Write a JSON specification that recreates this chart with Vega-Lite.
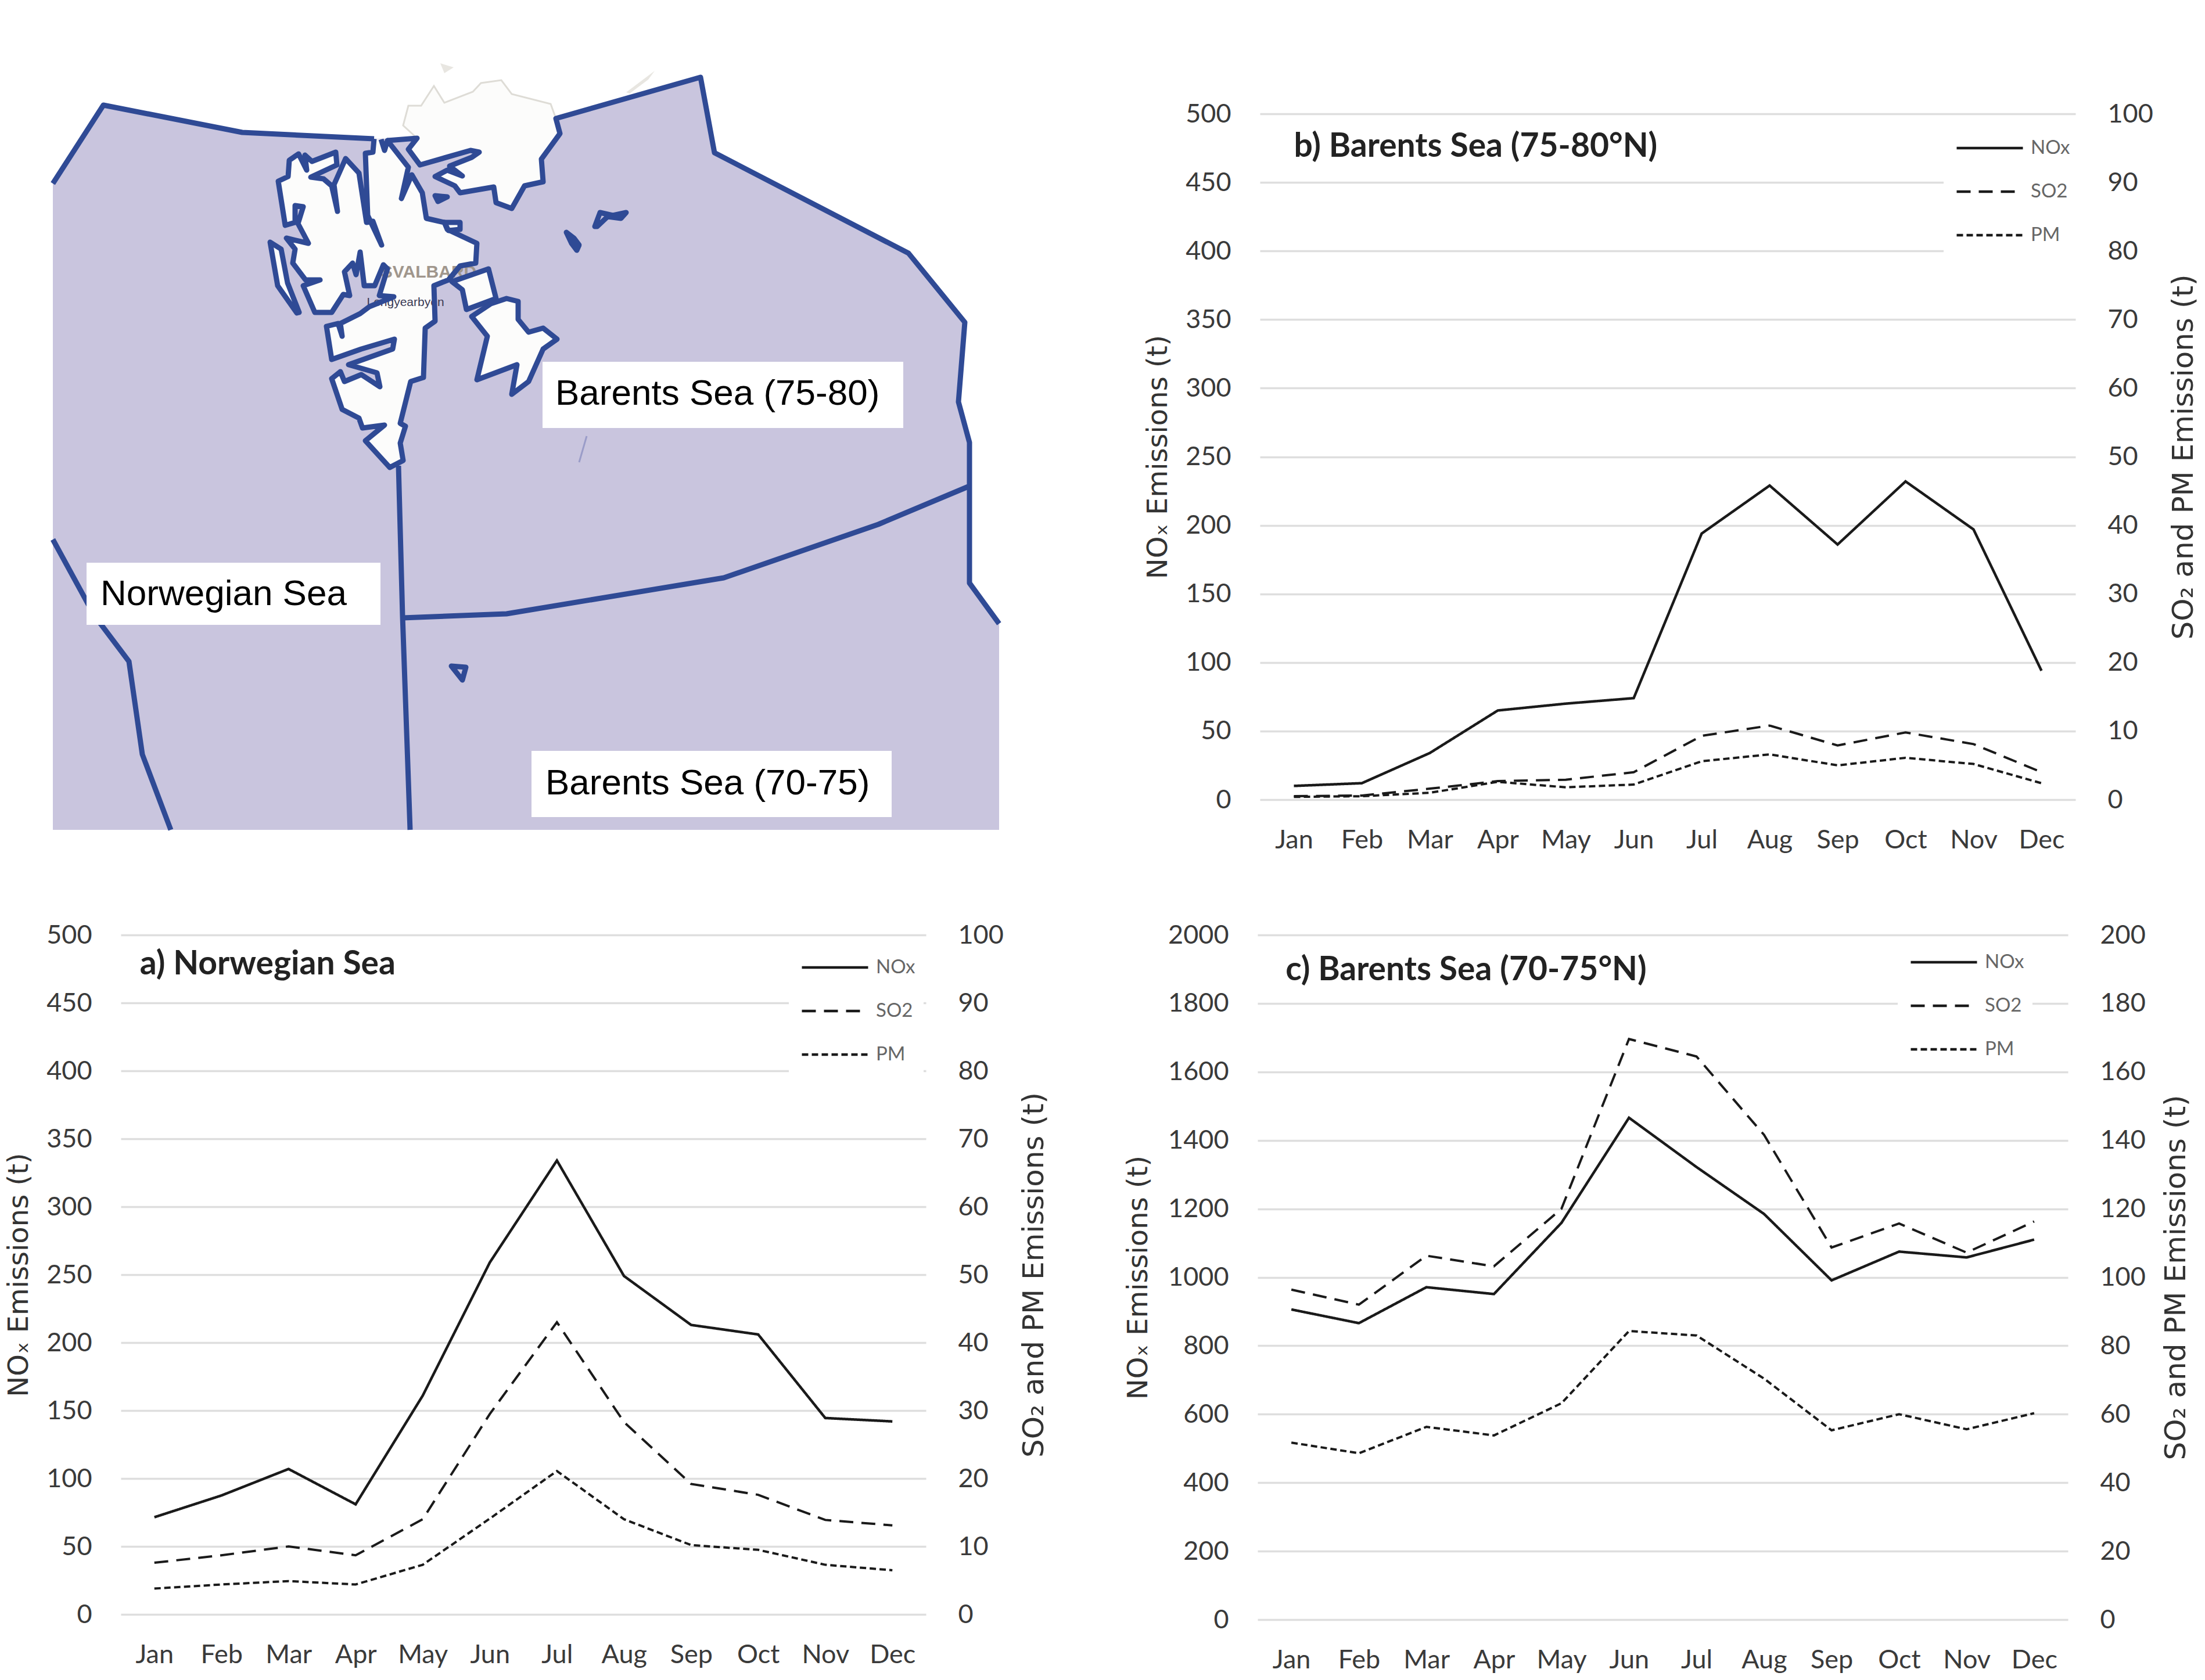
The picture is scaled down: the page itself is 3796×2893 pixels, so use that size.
{
"$schema": "https://vega.github.io/schema/vega-lite/v6.json",
"background": "white",
"padding": {"left": 9, "top": 80, "right": 6, "bottom": 0},
"config": {
  "view": {"stroke": null},
  "axis": {"labelFont": "Lato", "labelFontSize": 45, "labelColor": "#3a3a3a", "titleFont": "DejaVu Sans", "titleFontSize": 48, "titleFontWeight": "normal", "titleColor": "#333333", "domain": false, "ticks": false, "gridColor": "#dedede", "gridWidth": 3.5},
  "legend": {"orient": "none", "title": null, "fillColor": "white", "padding": 14, "symbolSize": 13000, "symbolType": "stroke", "symbolStrokeWidth": 4.5, "symbolStrokeColor": "#1a1a1a", "symbolOffset": 6, "clipHeight": 40, "rowPadding": 35, "labelOffset": 11, "labelFont": "Lato", "labelFontSize": 33, "labelColor": "#666666"}
},
"datasets": {
  "emissions": [
    {"panel":"a","month":"Jan","NOx":71.5,"SO2":7.6,"PM":3.8},
    {"panel":"a","month":"Feb","NOx":87.5,"SO2":8.7,"PM":4.4},
    {"panel":"a","month":"Mar","NOx":107,"SO2":10,"PM":4.9},
    {"panel":"a","month":"Apr","NOx":81,"SO2":8.7,"PM":4.4},
    {"panel":"a","month":"May","NOx":161,"SO2":14,"PM":7.3},
    {"panel":"a","month":"Jun","NOx":259,"SO2":29.5,"PM":14.1},
    {"panel":"a","month":"Jul","NOx":334,"SO2":43,"PM":21.1},
    {"panel":"a","month":"Aug","NOx":249,"SO2":28.3,"PM":14},
    {"panel":"a","month":"Sep","NOx":213,"SO2":19.2,"PM":10.2},
    {"panel":"a","month":"Oct","NOx":206,"SO2":17.6,"PM":9.5},
    {"panel":"a","month":"Nov","NOx":144.5,"SO2":13.9,"PM":7.3},
    {"panel":"a","month":"Dec","NOx":142,"SO2":13.1,"PM":6.5},
    {"panel":"b","month":"Jan","NOx":10,"SO2":0.5,"PM":0.4},
    {"panel":"b","month":"Feb","NOx":12,"SO2":0.6,"PM":0.5},
    {"panel":"b","month":"Mar","NOx":34,"SO2":1.6,"PM":1},
    {"panel":"b","month":"Apr","NOx":65,"SO2":2.7,"PM":2.6},
    {"panel":"b","month":"May","NOx":70,"SO2":2.9,"PM":1.8},
    {"panel":"b","month":"Jun","NOx":74,"SO2":4,"PM":2.2},
    {"panel":"b","month":"Jul","NOx":194,"SO2":9.3,"PM":5.6},
    {"panel":"b","month":"Aug","NOx":229,"SO2":10.8,"PM":6.6},
    {"panel":"b","month":"Sep","NOx":186,"SO2":7.9,"PM":5},
    {"panel":"b","month":"Oct","NOx":232,"SO2":9.8,"PM":6.1},
    {"panel":"b","month":"Nov","NOx":197,"SO2":8.1,"PM":5.2},
    {"panel":"b","month":"Dec","NOx":94,"SO2":4,"PM":2.4},
    {"panel":"c","month":"Jan","NOx":906,"SO2":96.4,"PM":51.7},
    {"panel":"c","month":"Feb","NOx":866,"SO2":92,"PM":48.6},
    {"panel":"c","month":"Mar","NOx":971,"SO2":106.3,"PM":56.3},
    {"panel":"c","month":"Apr","NOx":951,"SO2":103.2,"PM":53.8},
    {"panel":"c","month":"May","NOx":1159,"SO2":120,"PM":63.2},
    {"panel":"c","month":"Jun","NOx":1466,"SO2":169.6,"PM":84.3},
    {"panel":"c","month":"Jul","NOx":1322,"SO2":164.5,"PM":83},
    {"panel":"c","month":"Aug","NOx":1185,"SO2":141.6,"PM":70.4},
    {"panel":"c","month":"Sep","NOx":991,"SO2":108.7,"PM":55.3},
    {"panel":"c","month":"Oct","NOx":1075,"SO2":115.7,"PM":60},
    {"panel":"c","month":"Nov","NOx":1058,"SO2":107.2,"PM":55.6},
    {"panel":"c","month":"Dec","NOx":1110,"SO2":116.3,"PM":60.3}
  ],
  "map": [
    {"type":"Feature","properties":{"kind":"sea"},"geometry":{"type":"Polygon","coordinates":[[[0,236],[87,101],[326,148],[553,159],[627,158],[868,123],[1115,53],[1139,183],[1473,356],[1570,475],[1559,612],[1578,682],[1578,924],[1629,994],[1629,1349],[0,1349],[0,236]]]}},
    {"type":"Feature","properties":{"kind":"land"},"geometry":{"type":"Polygon","coordinates":[[[553,159],[551,182],[538,184],[542,291],[566,342],[551,301],[540,303],[527,218],[504,193],[484,238],[490,284],[480,240],[466,228],[444,225],[489,204],[487,182],[446,198],[434,187],[437,213],[423,185],[407,196],[405,224],[388,232],[400,308],[417,303],[417,274],[431,276],[422,305],[440,339],[402,330],[417,349],[413,373],[435,402],[460,402],[431,412],[451,458],[480,458],[500,427],[511,429],[502,388],[516,373],[522,393],[529,354],[536,412],[554,412],[569,376],[576,383],[562,429],[587,431],[545,448],[529,460],[495,477],[498,499],[491,477],[471,482],[480,539],[531,521],[588,504],[585,521],[509,548],[558,562],[563,586],[531,565],[502,577],[495,560],[480,572],[498,625],[527,640],[533,657],[571,652],[538,679],[580,725],[603,713],[598,683],[607,654],[598,649],[616,577],[638,570],[641,485],[658,473],[656,412],[681,402],[701,378],[728,373],[730,339],[679,315],[674,303],[643,296],[636,252],[618,221],[600,262],[612,208],[576,162],[571,179],[565,160],[553,159]]]}},
    {"type":"Feature","properties":{"kind":"land"},"geometry":{"type":"Polygon","coordinates":[[[627,158],[612,177],[632,204],[719,179],[734,182],[721,191],[683,206],[705,223],[679,213],[658,224],[692,240],[701,252],[759,242],[763,269],[790,279],[812,240],[844,233],[841,194],[873,150],[866,124],[857,99],[790,82],[772,58],[737,63],[723,78],[674,97],[656,68],[634,102],[612,102],[603,136],[627,158]]]}},
    {"type":"Feature","properties":{"kind":"land"},"geometry":{"type":"Polygon","coordinates":[[[374,337],[393,349],[404,407],[424,458],[420,459],[387,412],[374,337]]]}},
    {"type":"Feature","properties":{"kind":"land"},"geometry":{"type":"Polygon","coordinates":[[[687,405],[750,383],[763,434],[712,453],[705,419],[687,405]]]}},
    {"type":"Feature","properties":{"kind":"land"},"geometry":{"type":"Polygon","coordinates":[[[721,465],[754,443],[781,434],[801,439],[801,470],[819,492],[844,485],[868,504],[844,521],[819,577],[790,599],[799,548],[730,574],[748,499],[721,465]]]}},
    {"type":"Feature","properties":{"kind":"land"},"geometry":{"type":"Polygon","coordinates":[[[674,303],[701,303],[701,315],[681,317],[674,303]]]}},
    {"type":"Feature","properties":{"kind":"faint"},"geometry":{"type":"Polygon","coordinates":[[[987,79],[1036,42],[1025,57],[993,81],[987,79]]]}},
    {"type":"Feature","properties":{"kind":"faint"},"geometry":{"type":"Polygon","coordinates":[[[667,29],[690,36],[674,46],[667,29]]]}},
    {"type":"Feature","properties":{"kind":"coast"},"geometry":{"type":"LineString","coordinates":[[866,124],[857,99],[790,82],[772,58],[737,63],[723,78],[674,97],[656,68],[634,102],[612,102],[603,136],[627,158]]}},
    {"type":"Feature","properties":{"kind":"thin"},"geometry":{"type":"LineString","coordinates":[[919,671],[906,716]]}},
    {"type":"Feature","properties":{"kind":"border"},"geometry":{"type":"LineString","coordinates":[[0,236],[87,101],[326,148],[553,159]]}},
    {"type":"Feature","properties":{"kind":"border"},"geometry":{"type":"LineString","coordinates":[[553,159],[551,182],[538,184],[542,291],[566,342],[551,301],[540,303],[527,218],[504,193],[484,238],[490,284],[480,240],[466,228],[444,225],[489,204],[487,182],[446,198],[434,187],[437,213],[423,185],[407,196],[405,224],[388,232],[400,308],[417,303],[417,274],[431,276],[422,305],[440,339],[402,330],[417,349],[413,373],[435,402],[460,402],[431,412],[451,458],[480,458],[500,427],[511,429],[502,388],[516,373],[522,393],[529,354],[536,412],[554,412],[569,376],[576,383],[562,429],[587,431],[545,448],[529,460],[495,477],[498,499],[491,477],[471,482],[480,539],[531,521],[588,504],[585,521],[509,548],[558,562],[563,586],[531,565],[502,577],[495,560],[480,572],[498,625],[527,640],[533,657],[571,652],[538,679],[580,725],[603,713],[598,683],[607,654],[598,649],[616,577],[638,570],[641,485],[658,473],[656,412],[681,402],[701,378],[728,373],[730,339],[679,315],[674,303],[643,296],[636,252],[618,221],[600,262],[612,208],[576,162],[571,179],[565,160]]}},
    {"type":"Feature","properties":{"kind":"border"},"geometry":{"type":"LineString","coordinates":[[576,162],[627,158],[612,177],[632,204],[719,179],[734,182],[721,191],[683,206],[705,223],[679,213],[658,224],[692,240],[701,252],[759,242],[763,269],[790,279],[812,240],[844,233],[841,194],[873,150],[866,124],[1115,53],[1139,183],[1473,356],[1570,475],[1559,612],[1578,682],[1578,924],[1629,994]]}},
    {"type":"Feature","properties":{"kind":"border"},"geometry":{"type":"Polygon","coordinates":[[[374,337],[393,349],[404,407],[424,458],[420,459],[387,412],[374,337]]]}},
    {"type":"Feature","properties":{"kind":"border"},"geometry":{"type":"Polygon","coordinates":[[[687,405],[750,383],[763,434],[712,453],[705,419],[687,405]]]}},
    {"type":"Feature","properties":{"kind":"border"},"geometry":{"type":"Polygon","coordinates":[[[721,465],[754,443],[781,434],[801,439],[801,470],[819,492],[844,485],[868,504],[844,521],[819,577],[790,599],[799,548],[730,574],[748,499],[721,465]]]}},
    {"type":"Feature","properties":{"kind":"border"},"geometry":{"type":"Polygon","coordinates":[[[658,257],[679,259],[663,267],[658,257]]]}},
    {"type":"Feature","properties":{"kind":"border"},"geometry":{"type":"Polygon","coordinates":[[[674,303],[701,303],[701,315],[681,317],[674,303]]]}},
    {"type":"Feature","properties":{"kind":"border"},"geometry":{"type":"Polygon","coordinates":[[[884,320],[897,330],[906,342],[902,351],[893,339],[884,320]]]}},
    {"type":"Feature","properties":{"kind":"border"},"geometry":{"type":"Polygon","coordinates":[[[933,310],[942,286],[964,291],[987,286],[978,296],[955,293],[937,310],[933,310]]]}},
    {"type":"Feature","properties":{"kind":"border"},"geometry":{"type":"Polygon","coordinates":[[[686,1067],[711,1069],[705,1091],[686,1067]]]}},
    {"type":"Feature","properties":{"kind":"border"},"geometry":{"type":"LineString","coordinates":[[595,722],[602,981],[615,1349]]}},
    {"type":"Feature","properties":{"kind":"border"},"geometry":{"type":"LineString","coordinates":[[602,984],[781,977],[1155,915],[1421,823],[1578,757]]}},
    {"type":"Feature","properties":{"kind":"border"},"geometry":{"type":"LineString","coordinates":[[0,849],[60,959],[82,994],[131,1059],[154,1219],[203,1349]]}},
    {"type":"Feature","properties":{"kind":"box"},"geometry":{"type":"Polygon","coordinates":[[[843,543],[1464,543],[1464,657],[843,657],[843,543]]]}},
    {"type":"Feature","properties":{"kind":"box"},"geometry":{"type":"Polygon","coordinates":[[[58,889],[564,889],[564,996],[58,996],[58,889]]]}},
    {"type":"Feature","properties":{"kind":"box"},"geometry":{"type":"Polygon","coordinates":[[[824,1213],[1444,1213],[1444,1327],[824,1327],[824,1213]]]}}
  ],
  "labels": [
    {"lon":865,"lat":598,"name":"Barents Sea (75-80)"},
    {"lon":82,"lat":943,"name":"Norwegian Sea"},
    {"lon":848,"lat":1269,"name":"Barents Sea (70-75)"}
  ]
},
"resolve": {"scale": {"strokeDash": "independent"}},
"spacing": 119,
"vconcat": [
  {
    "spacing": 245,
    "resolve": {"scale": {"strokeDash": "independent"}},
    "hconcat": [
      {
        "width": 1512,
        "height": 1349,
        "projection": {"type": "identity", "scale": 1, "translate": [-117, 0]},
        "layer": [
          {"data": {"name": "map"}, "transform": [{"filter": "datum.properties.kind == 'sea'"}], "mark": {"type": "geoshape", "clip": false, "fill": "#c9c5de", "stroke": null}},
          {"data": {"name": "map"}, "transform": [{"filter": "datum.properties.kind == 'land'"}], "mark": {"type": "geoshape", "clip": false, "fill": "#fcfcfb", "stroke": null}},
          {"data": {"name": "map"}, "transform": [{"filter": "datum.properties.kind == 'faint'"}], "mark": {"type": "geoshape", "clip": false, "fill": "#e8e6e1", "stroke": null}},
          {"data": {"name": "map"}, "transform": [{"filter": "datum.properties.kind == 'coast'"}], "mark": {"type": "geoshape", "clip": false, "filled": false, "stroke": "#dedcd6", "strokeWidth": 3}},
          {"data": {"name": "map"}, "transform": [{"filter": "datum.properties.kind == 'thin'"}], "mark": {"type": "geoshape", "clip": false, "filled": false, "stroke": "#9a9cc8", "strokeWidth": 3}},
          {"data": {"values": [{"lon":647,"lat":389,"name":"SVALBARD"}]}, "mark": {"type": "text", "clip": false, "font": "Liberation Sans", "fontSize": 30, "fontWeight": "bold", "color": "#a0968c"}, "encoding": {"longitude": {"field": "lon", "type": "quantitative"}, "latitude": {"field": "lat", "type": "quantitative"}, "text": {"field": "name"}}},
          {"data": {"values": [{"lon":607,"lat":441,"name":"Longyearbyen"}]}, "mark": {"type": "text", "clip": false, "font": "Liberation Sans", "fontSize": 21, "color": "#3a3a55"}, "encoding": {"longitude": {"field": "lon", "type": "quantitative"}, "latitude": {"field": "lat", "type": "quantitative"}, "text": {"field": "name"}}},
          {"data": {"name": "map"}, "transform": [{"filter": "datum.properties.kind == 'border'"}], "mark": {"type": "geoshape", "clip": false, "filled": false, "stroke": "#2f4a95", "strokeWidth": 9, "strokeJoin": "round"}},
          {"data": {"name": "map"}, "transform": [{"filter": "datum.properties.kind == 'box'"}], "mark": {"type": "geoshape", "clip": false, "fill": "white", "stroke": null}},
          {"data": {"name": "labels"}, "mark": {"type": "text", "clip": false, "font": "Liberation Sans", "fontSize": 62, "align": "left", "color": "black"}, "encoding": {"longitude": {"field": "lon", "type": "quantitative"}, "latitude": {"field": "lat", "type": "quantitative"}, "text": {"field": "name"}}}
        ]
      },
      {
        "spacing": 0,
        "resolve": {"scale": {"strokeDash": "independent"}},
        "vconcat": [
          {"width": 1, "height": 94, "data": {"values": [{"blank": 1}]}, "mark": {"type": "point", "opacity": 0}},
          {
            "width": 1404,
            "height": 1181,
            "data": {"name": "emissions"},
            "transform": [{"filter": "datum.panel == 'b'"}, {"fold": ["NOx", "SO2", "PM"], "as": ["pollutant", "value"]}],
            "encoding": {
              "x": {"field": "month", "type": "nominal", "sort": null, "scale": {"type": "point", "padding": 0.5, "domain": ["Jan","Feb","Mar","Apr","May","Jun","Jul","Aug","Sep","Oct","Nov","Dec"]}, "axis": {"title": null, "labelAngle": 0, "labelPadding": 47, "grid": false}},
              "strokeDash": {"field": "pollutant", "type": "nominal", "scale": {"domain": ["NOx","SO2","PM"], "range": [[1,0],[24,14],[11,6]]}, "legend": {"legendX": 1177, "legendY": 25}}
            },
            "layer": [
              {
                "transform": [{"filter": "datum.pollutant == 'NOx'"}],
                "mark": {"type": "line", "color": "#1a1a1a", "strokeWidth": 4.5},
                "encoding": {"y": {"field": "value", "type": "quantitative", "scale": {"domain": [0,500]}, "axis": {"title": "NOₓ Emissions (t)", "values": [0,50,100,150,200,250,300,350,400,450,500], "grid": true, "labelPadding": 50, "titlePadding": 22}}}
              },
              {
                "transform": [{"filter": "datum.pollutant != 'NOx'"}],
                "mark": {"type": "line", "color": "#1a1a1a", "strokeWidth": 4},
                "encoding": {"y": {"field": "value", "type": "quantitative", "scale": {"domain": [0,100]}, "axis": {"orient": "right", "title": "SO₂ and PM Emissions (t)", "titleFontSize": 50, "titleAngle": 270, "titleBaseline": "top", "values": [0,10,20,30,40,50,60,70,80,90,100], "grid": false, "labelPadding": 55, "titlePadding": 28}}}
              },
              {
                "data": {"values": [{"month":"Jan","level":476,"name":"b) Barents Sea (75-80°N)"}]},
                "transform": [],
                "mark": {"type": "text", "font": "Lato", "fontWeight": "bold", "fontSize": 57, "align": "left", "color": "#222222"},
                "encoding": {"strokeDash": {"value": [1,0]}, "y": {"field": "level", "type": "quantitative", "scale": {"domain": [0,500]}, "axis": null}, "text": {"field": "name"}}
              }
            ],
            "resolve": {"scale": {"y": "independent"}}
          }
        ]
      }
    ]
  },
  {
    "spacing": 130,
    "resolve": {"scale": {"strokeDash": "independent"}},
    "hconcat": [
      {
        "width": 1386,
        "height": 1170,
        "data": {"name": "emissions"},
        "transform": [{"filter": "datum.panel == 'a'"}, {"fold": ["NOx", "SO2", "PM"], "as": ["pollutant", "value"]}],
        "encoding": {
          "x": {"field": "month", "type": "nominal", "sort": null, "scale": {"type": "point", "padding": 0.5, "domain": ["Jan","Feb","Mar","Apr","May","Jun","Jul","Aug","Sep","Oct","Nov","Dec"]}, "axis": {"title": null, "labelAngle": 0, "labelPadding": 47, "grid": false}},
          "strokeDash": {"field": "pollutant", "type": "nominal", "scale": {"domain": ["NOx","SO2","PM"], "range": [[1,0],[24,14],[11,6]]}, "legend": {"legendX": 1150, "legendY": 22}}
        },
        "layer": [
          {
            "transform": [{"filter": "datum.pollutant == 'NOx'"}],
            "mark": {"type": "line", "color": "#1a1a1a", "strokeWidth": 4.5},
            "encoding": {"y": {"field": "value", "type": "quantitative", "scale": {"domain": [0,500]}, "axis": {"title": "NOₓ Emissions (t)", "values": [0,50,100,150,200,250,300,350,400,450,500], "grid": true, "labelPadding": 50, "titlePadding": 22}}}
          },
          {
            "transform": [{"filter": "datum.pollutant != 'NOx'"}],
            "mark": {"type": "line", "color": "#1a1a1a", "strokeWidth": 4},
            "encoding": {"y": {"field": "value", "type": "quantitative", "scale": {"domain": [0,100]}, "axis": {"orient": "right", "title": "SO₂ and PM Emissions (t)", "titleFontSize": 50, "titleAngle": 270, "titleBaseline": "top", "values": [0,10,20,30,40,50,60,70,80,90,100], "grid": false, "labelPadding": 55, "titlePadding": 28}}}
          },
          {
            "data": {"values": [{"month":"Jan","level":478,"name":"a) Norwegian Sea"}]},
            "transform": [],
            "mark": {"type": "text", "font": "Lato", "fontWeight": "bold", "fontSize": 57, "align": "left", "dx": -25, "color": "#222222"},
            "encoding": {"strokeDash": {"value": [1,0]}, "y": {"field": "level", "type": "quantitative", "scale": {"domain": [0,500]}, "axis": null}, "text": {"field": "name"}}
          }
        ],
        "resolve": {"scale": {"y": "independent"}}
      },
      {
        "width": 1395,
        "height": 1179,
        "data": {"name": "emissions"},
        "transform": [{"filter": "datum.panel == 'c'"}, {"fold": ["NOx", "SO2", "PM"], "as": ["pollutant", "value"]}],
        "encoding": {
          "x": {"field": "month", "type": "nominal", "sort": null, "scale": {"type": "point", "padding": 0.5, "domain": ["Jan","Feb","Mar","Apr","May","Jun","Jul","Aug","Sep","Oct","Nov","Dec"]}, "axis": {"title": null, "labelAngle": 0, "labelPadding": 47, "grid": false}},
          "strokeDash": {"field": "pollutant", "type": "nominal", "scale": {"domain": ["NOx","SO2","PM"], "range": [[1,0],[24,14],[11,6]]}, "legend": {"legendX": 1102, "legendY": 13}}
        },
        "layer": [
          {
            "transform": [{"filter": "datum.pollutant == 'NOx'"}],
            "mark": {"type": "line", "color": "#1a1a1a", "strokeWidth": 4.5},
            "encoding": {"y": {"field": "value", "type": "quantitative", "scale": {"domain": [0,2000]}, "axis": {"title": "NOₓ Emissions (t)", "format": "d", "values": [0,200,400,600,800,1000,1200,1400,1600,1800,2000], "grid": true, "labelPadding": 50, "titlePadding": 26}}}
          },
          {
            "transform": [{"filter": "datum.pollutant != 'NOx'"}],
            "mark": {"type": "line", "color": "#1a1a1a", "strokeWidth": 4},
            "encoding": {"y": {"field": "value", "type": "quantitative", "scale": {"domain": [0,200]}, "axis": {"orient": "right", "title": "SO₂ and PM Emissions (t)", "titleFontSize": 50, "titleAngle": 270, "titleBaseline": "top", "format": "d", "values": [0,20,40,60,80,100,120,140,160,180,200], "grid": false, "labelPadding": 55, "titlePadding": 28}}}
          },
          {
            "data": {"values": [{"month":"Jan","level":1896,"name":"c) Barents Sea (70-75°N)"}]},
            "transform": [],
            "mark": {"type": "text", "font": "Lato", "fontWeight": "bold", "fontSize": 57, "align": "left", "dx": -10, "color": "#222222"},
            "encoding": {"strokeDash": {"value": [1,0]}, "y": {"field": "level", "type": "quantitative", "scale": {"domain": [0,2000]}, "axis": null}, "text": {"field": "name"}}
          }
        ],
        "resolve": {"scale": {"y": "independent"}}
      }
    ]
  }
]
}
